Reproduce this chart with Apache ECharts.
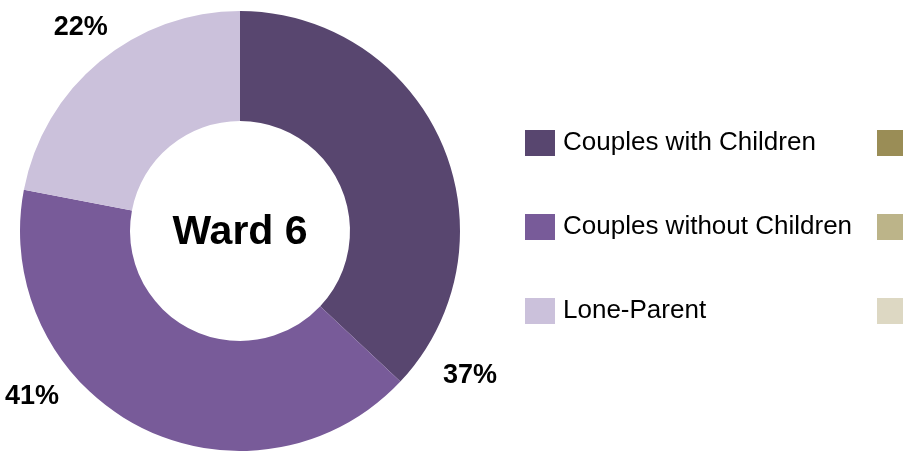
<!DOCTYPE html>
<html>
<head>
<meta charset="utf-8">
<script src="https://cdn.jsdelivr.net/npm/echarts@6/dist/echarts.min.js"></script>
<style>
  html, body { margin: 0; padding: 0; background: #fff; }
  #main { width: 903px; height: 451px; }
</style>
</head>
<body>
<div id="main"></div>
<script>
// household types, ward 6
var categories = ["Couples with Children", "Couples without Children", "Lone-Parent"];
var values = [37, 41, 22];
// second legend column (cut off at the right edge in the source)
var extraCategories = ["One-Person", "Two or More Persons", "Other"];
var extraValues = [0, 0, 0];

var purples = ["#58466f", "#785b99", "#cbc1db"];
var olives = ["#9a8d56", "#bcb489", "#ddd8c3"];

var chartDom = document.getElementById("main");
var myChart = echarts.init(chartDom);

// nudge the percent labels to where the original puts them
var labelNudge = [[-4, 232], [-76, -30], [13, -34]];

var pieData = [];
categories.forEach(function (name, i) {
  pieData.push({
    name: name,
    value: values[i],
    itemStyle: { color: purples[i] },
    label: { offset: labelNudge[i] },
  });
});
extraCategories.forEach(function (name, i) {
  pieData.push({
    name: name,
    value: extraValues[i],
    itemStyle: { color: olives[i] },
    label: { show: false },
  });
});

var legendText = {
  color: "#000",
  fontSize: 26,
  fontFamily: "Liberation Sans, Arial, sans-serif",
  padding: [0, 0, 0, 3],
};

var option = {
  animation: false,
  legend: [
    {
      orient: "vertical",
      left: 520,
      top: 125,
      itemWidth: 30,
      itemHeight: 26,
      itemGap: 58,
      icon: "rect",
      selectedMode: false,
      textStyle: legendText,
      data: categories,
    },
    {
      orient: "vertical",
      left: 872,
      top: 125,
      itemWidth: 30,
      itemHeight: 26,
      itemGap: 58,
      icon: "rect",
      selectedMode: false,
      textStyle: legendText,
      data: extraCategories,
    },
  ],
  graphic: [
    {
      type: "text",
      x: 240,
      y: 233,
      style: {
        text: "Ward 6",
        fill: "#000",
        font: "bold 41px Liberation Sans, Arial, sans-serif",
        textAlign: "center",
        textVerticalAlign: "middle",
      },
    },
  ],
  series: [
    {
      type: "pie",
      center: [240, 231],
      radius: [110, 220],
      startAngle: 90,
      clockwise: true,
      avoidLabelOverlap: false,
      stillShowZeroSum: false,
      label: {
        show: true,
        position: "outside",
        formatter: "{c}%",
        color: "#000",
        fontSize: 27,
        fontWeight: "bold",
        fontFamily: "Liberation Sans, Arial, sans-serif",
      },
      labelLine: { show: false, length: 0, length2: 0 },
      emphasis: { disabled: true },
      data: pieData,
    },
  ],
};

myChart.setOption(option);
window.addEventListener("resize", function () {
  myChart.resize();
});
</script>
</body>
</html>
